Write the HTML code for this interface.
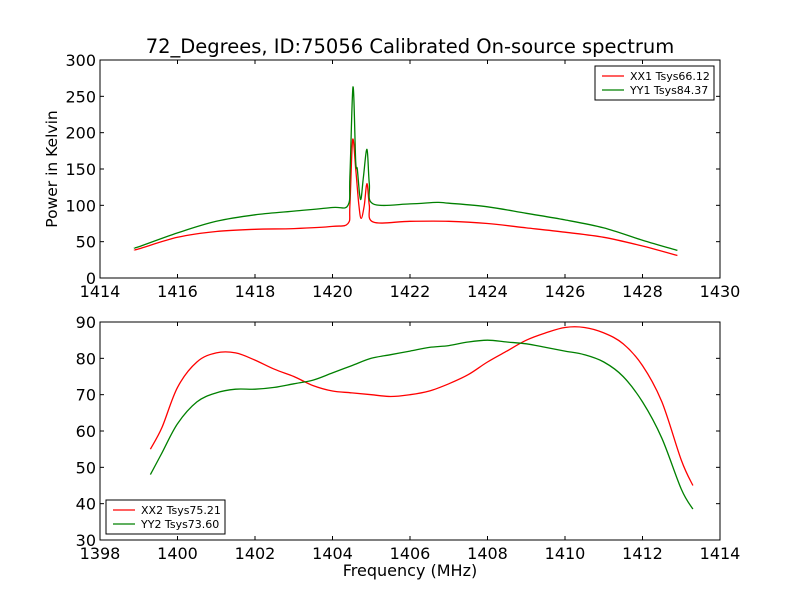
<!DOCTYPE html>
<html><head><meta charset="utf-8"><style>
body{margin:0;background:#fff;font-family:"DejaVu Sans","Liberation Sans",sans-serif}
svg text{font-family:"DejaVu Sans","Liberation Sans",sans-serif}
</style></head><body>
<svg id="c" width="800" height="600" xmlns="http://www.w3.org/2000/svg">
<rect width="800" height="600" fill="#fff"/>
<text x="410" y="53" font-size="19.5" text-anchor="middle">72_Degrees, ID:75056 Calibrated On-source spectrum</text>
<text x="57" y="169" font-size="15.5" text-anchor="middle" transform="rotate(-90 57 169)">Power in Kelvin</text>
<text x="410" y="576" font-size="16" text-anchor="middle">Frequency (MHz)</text>
</svg>
<script>
const topRedX=[1414.9,1415,1416,1417,1418,1419,1420,1420.4,1420.45,1420.52,1420.6,1420.68,1420.74,1420.82,1420.89,1420.95,1421.05,1422,1423,1424,1425,1426,1427,1428,1428.9];
const topRedY=[39,40,56,64,67,68,71,75,100,190,150,100,82,100,130,100,77,78,78,75,69,63,56,44,31];
const topGreenX=[1414.9,1415,1416,1417,1418,1419,1420,1420.4,1420.45,1420.53,1420.6,1420.64,1420.7,1420.74,1420.8,1420.89,1420.95,1421.05,1422,1422.7,1423,1424,1425,1426,1427,1428,1428.9];
const topGreenY=[42,43,62,78,87,92,97,100,140,263,160,150,115,110,140,177,130,102,102,104,103,98,89,80,69,52,38];
const botRedX=[1399.3,1399.6,1400,1400.5,1401,1401.5,1402,1402.5,1403,1403.5,1404,1404.5,1405,1405.5,1406,1406.5,1407,1407.5,1408,1408.5,1409,1409.5,1410,1410.5,1411,1411.5,1412,1412.5,1413,1413.3];
const botRedY=[55,61,72,79,81.5,81.5,79.5,77,75,72.5,71,70.5,70,69.5,70,71,73,75.5,79,82,85,87,88.5,88.5,87,84,78,68,52,45];
const botGreenX=[1399.3,1399.6,1400,1400.5,1401,1401.5,1402,1402.5,1403,1403.5,1404,1404.5,1405,1405.5,1406,1406.5,1407,1407.5,1408,1408.5,1409,1409.5,1410,1410.5,1411,1411.5,1412,1412.5,1413,1413.3];
const botGreenY=[48,54,62,68,70.5,71.5,71.5,72,73,74,76,78,80,81,82,83,83.5,84.5,85,84.5,84,83,82,81,79,75,68,58,44,38.5];
const topXTicks=[1414,1416,1418,1420,1422,1424,1426,1428,1430];
const topYTicks=[0,50,100,150,200,250,300];
const botXTicks=[1398,1400,1402,1404,1406,1408,1410,1412,1414];
const botYTicks=[30,40,50,60,70,80,90];
const NS='http://www.w3.org/2000/svg';
const svg=document.getElementById('c');
function mk(t,a,p){const e=document.createElementNS(NS,t);for(const k in a)e.setAttribute(k,a[k]);(p||svg).appendChild(e);return e;}
function smooth(P){
  let d='M'+P[0][0].toFixed(1)+' '+P[0][1].toFixed(1);
  for(let i=0;i<P.length-1;i++){
    const p0=P[i-1]||P[i],p1=P[i],p2=P[i+1],p3=P[i+2]||P[i+1];
    const c1=[p1[0]+(p2[0]-p0[0])/6,p1[1]+(p2[1]-p0[1])/6];
    const c2=[p2[0]-(p3[0]-p1[0])/6,p2[1]-(p3[1]-p1[1])/6];
    d+=' C'+c1.map(v=>v.toFixed(1)).join(' ')+' '+c2.map(v=>v.toFixed(1)).join(' ')+' '+p2[0].toFixed(1)+' '+p2[1].toFixed(1);
  }
  return d;
}
function panel(name,top,bot,x0,x1,y0,y1,xt,yt,series,leg){
  const L=100,R=720;
  const sx=v=>L+(v-x0)/(x1-x0)*(R-L), sy=v=>bot-(v-y0)/(y1-y0)*(bot-top);
  const g=mk('g',{});
  
  
  series.forEach(s=>{
    const pts=s.x.map((v,i)=>[sx(v),sy(s.y[i])]);
    const p=mk('path',{d:smooth(pts),fill:'none',stroke:s.c,'stroke-width':1.3,'stroke-linejoin':'round'},g);
    
    
  });
  xt.forEach(v=>{const X=sx(v);
    mk('line',{x1:X,x2:X,y1:bot,y2:bot-4,stroke:'#000'},g);mk('line',{x1:X,x2:X,y1:top,y2:top+4,stroke:'#000'},g);
    const t=mk('text',{x:X,y:bot+19,'font-size':16,'text-anchor':'middle'},g);t.textContent=v;
    
    });
  yt.forEach(v=>{const Y=sy(v);
    mk('line',{x1:L,x2:L+4,y1:Y,y2:Y,stroke:'#000'},g);mk('line',{x1:R,x2:R-4,y1:Y,y2:Y,stroke:'#000'},g);
    const t=mk('text',{x:L-4,y:Y+6,'font-size':16,'text-anchor':'end'},g);t.textContent=v;
    
    });
  mk('rect',{x:L,y:top,width:R-L,height:bot-top,fill:'none',stroke:'#000','stroke-width':1},g);
  const lg=mk('g',{},g);
  
  
  mk('rect',{x:leg[0],y:leg[1],width:119,height:34,fill:'#fff',stroke:'#000'},lg);
  series.forEach((s,i)=>{const y=leg[1]+10+i*14;
    mk('line',{x1:leg[0]+7,x2:leg[0]+29,y1:y,y2:y,stroke:s.c,'stroke-width':1.3},lg);
    const t=mk('text',{x:leg[0]+35,y:y+4,'font-size':11},lg);t.textContent=s.l;
    
    });
}
panel('top',60,278,1414,1430,0,300,topXTicks,topYTicks,[{n:'xx1',c:'#f00',x:topRedX,y:topRedY,l:'XX1 Tsys66.12'},{n:'yy1',c:'#008000',x:topGreenX,y:topGreenY,l:'YY1 Tsys84.37'}],[595,66]);
panel('bottom',322,540,1398,1414,30,90,botXTicks,botYTicks,[{n:'xx2',c:'#f00',x:botRedX,y:botRedY,l:'XX2 Tsys75.21'},{n:'yy2',c:'#008000',x:botGreenX,y:botGreenY,l:'YY2 Tsys73.60'}],[106,500]);
</script>
</body></html>
